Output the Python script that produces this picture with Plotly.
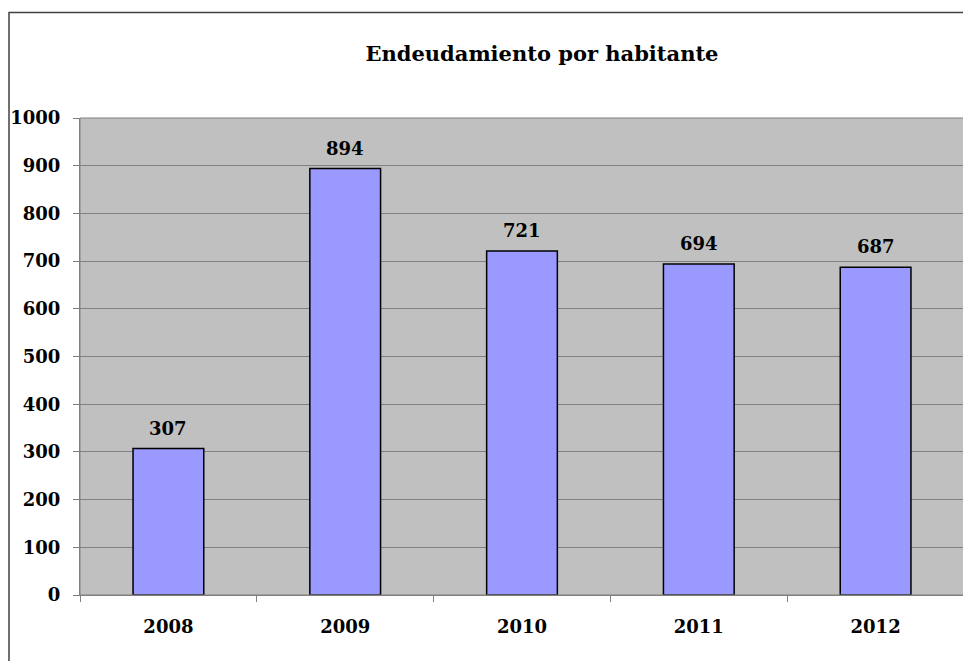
import plotly.graph_objects as go

years = ["2008", "2009", "2010", "2011", "2012"]
values = [307, 894, 721, 694, 687]
title_text = "Endeudamiento por habitante"

OFF = 8  # page body margin
W, H = 971 - OFF, 661 - OFF
ML, MR, MT, MB = 80 - OFF, 7, 118 - OFF, 66
pw = W - ML - MR
ph = H - MT - MB

font_family = "DejaVu Serif"

fig = go.Figure()
fig.add_trace(go.Bar(
    x=years, y=values,
    marker=dict(color="#9999FF", line=dict(color="#000000", width=1.5)),
    width=0.4,
))
for i, v in enumerate(values):
    fig.add_annotation(x=i, y=v, text=f"<b>{v}</b>", showarrow=False,
                       yanchor="bottom", yshift=8,
                       font=dict(family=font_family, size=18, color="#000000"))

fig.update_layout(
    width=W, height=H,
    margin=dict(l=ML, r=MR, t=MT, b=MB, autoexpand=False),
    paper_bgcolor="white",
    plot_bgcolor="#C0C0C0",
    showlegend=False,
    title=dict(text=f"<b>{title_text}</b>", x=(542 - OFF) / W, xanchor="center",
               y=1 - (54 - OFF) / H, yanchor="middle",
               font=dict(family=font_family, size=21, color="#000000")),
    font=dict(family=font_family, color="#000000"),
)
fig.update_yaxes(
    range=[0, 1000], dtick=100, showgrid=True, gridcolor="#808080", gridwidth=1,
    showline=True, linecolor="#808080", linewidth=1,
    ticks="outside", ticklen=6, tickcolor="#808080",
    tickfont=dict(family=font_family, size=18, color="#000000"),
    tickprefix="<b>", ticksuffix="</b>", ticklabelstandoff=9,
    zeroline=False, automargin=False,
)
fig.update_xaxes(
    type="category", tickangle=0, range=[-0.5, len(years) - 0.5],
    showline=True, linecolor="#808080", linewidth=1,
    ticks="outside", ticklen=6, tickcolor="#808080", tickson="boundaries",
    tickfont=dict(family=font_family, size=18, color="#000000"),
    tickprefix="<b>", ticksuffix="</b>", ticklabelstandoff=15,
    showgrid=False, automargin=False,
)
# plot area border
fig.add_shape(type="rect", xref="paper", yref="paper", x0=0, x1=1, y0=0, y1=1,
              line=dict(color="#808080", width=1), layer="above")
# outer chart border
fig.add_shape(type="rect", xref="paper", yref="paper",
              x0=(1 - ML) / pw, x1=1 + 20 / pw,
              y0=-(MB + 20) / ph, y1=1 + (MT - (12.5 - OFF)) / ph,
              line=dict(color="#404040", width=1.5))

fig.write_html("out.html")
